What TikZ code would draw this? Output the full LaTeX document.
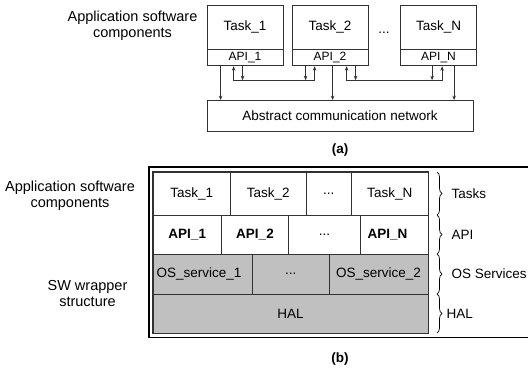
\documentclass[tikz,border=0pt]{standalone}
\usepackage{fontspec}
\setmainfont{Liberation Sans}
\usetikzlibrary{arrows.meta,decorations.pathreplacing}
\definecolor{edge}{RGB}{50,50,50}
\definecolor{layerfill}{RGB}{192,192,192}
\begin{document}
\begin{tikzpicture}[x=1bp,y=-1bp,
  txt/.style={font=\fontsize{13.5bp}{15bp}\selectfont},
  lbl/.style={font=\fontsize{14.5bp}{15.5bp}\selectfont, align=center},
  small/.style={font=\fontsize{12bp}{13bp}\selectfont},
  taskbox/.style={draw=edge, line width=0.8bp, inner sep=0pt, minimum width=76bp, minimum height=44bp, txt},
  apibox/.style={draw=edge, line width=0.8bp, inner sep=0pt, minimum width=76bp, minimum height=16bp, small},
  cell/.style={draw=edge, line width=0.8bp, inner sep=0pt, txt},
  gcell/.style={cell, fill=layerfill},
  wire/.style={draw=edge, line width=0.7bp},
  arr/.style={wire, -{Stealth[length=4.5bp,width=3.5bp]}},
  darr/.style={wire, {Stealth[length=4.5bp,width=3.5bp]}-{Stealth[length=4.5bp,width=3.5bp]}},
  brc/.style={draw=black, line width=0.7bp, decorate, decoration={brace, amplitude=5bp}},
]
\useasboundingbox (0,0) rectangle (528,368);

% ---------- (a) communication view ----------
\node[lbl] (appA) at (132.5,25.5) {Application software\\components};

\node[taskbox] (t1) at (245,27) {Task\_1};
\node[apibox, anchor=north] (a1) at (t1.south) {API\_1};
\node[taskbox] (t2) at (330,27) {Task\_2};
\node[apibox, anchor=north] (a2) at (t2.south) {API\_2};
\node[taskbox] (tn) at (438.5,27) {Task\_N};
\node[apibox, anchor=north] (an) at (tn.south) {API\_N};
\node[txt] (dotsA) at (384,33) {...};

\node[draw=edge, line width=0.8bp, minimum width=266bp, minimum height=31bp, inner sep=0pt, txt]
  (net) at (340,116) {Abstract communication network};

% links down to the network
\draw[arr] ([xshift=14bp]a1.south west) -- ([xshift=14bp]a1.south west |- net.north);
\draw[arr] ([xshift=41bp]a2.south west) -- ([xshift=41bp]a2.south west |- net.north);
\draw[arr] ([xshift=54bp]an.south west) -- ([xshift=54bp]an.south west |- net.north);

% point-to-point channels between neighbouring APIs
\draw[darr] ([xshift=27bp]a1.south west) -- ++(0,14) -| ([xshift=23bp]a2.south west);
\draw[arr] ([xshift=36bp]a1.south west) -- ++(0,14);
\draw[arr] ([xshift=14bp]a2.south west) -- ++(0,14);
\draw[darr] ([xshift=55bp]a2.south west) -- ++(0,14) -| ([xshift=42bp]an.south west);
\draw[arr] ([xshift=64bp]a2.south west) -- ++(0,14);
\draw[arr] ([xshift=32bp]an.south west) -- ++(0,14);

\node[txt, font=\fontsize{13.5bp}{15bp}\bfseries] (capA) at (340,150) {(a)};

% ---------- (b) layered wrapper view ----------
\draw[black, line width=1.2bp] (149,167) rectangle (531,337.6);

% tasks row
\node[cell, minimum width=77.7bp, minimum height=43bp] (bt1) at (191.85,193.5) {Task\_1};
\node[cell, minimum width=75.3bp, minimum height=43bp] (bt2) at (268.35,193.5) {Task\_2};
\node[cell, minimum width=45.5bp, minimum height=43bp] (btd) at (328.75,193.5) {...};
\node[cell, minimum width=76.5bp, minimum height=43bp] (btn) at (389.75,193.5) {Task\_N};
% API row
\node[cell, minimum width=68.5bp, minimum height=39bp, font=\fontsize{13.5bp}{15bp}\bfseries] (ba1) at (187.25,234.5) {API\_1};
\node[cell, minimum width=67bp, minimum height=39bp, font=\fontsize{13.5bp}{15bp}\bfseries] (ba2) at (255,234.5) {API\_2};
\node[cell, minimum width=72bp, minimum height=39bp] (bad) at (324.5,234.5) {...};
\node[cell, minimum width=67.5bp, minimum height=39bp] (ban) at (394.25,234.5) {};
\node[font=\fontsize{13.5bp}{15bp}\bfseries] (banl) at (387.5,234.5) {API\_N};
% OS services row
\node[gcell, minimum width=99.5bp, minimum height=40bp] (bo1) at (202.75,274) {};
\node[txt] (bo1l) at (199,274) {OS\_service\_1};
\node[gcell, minimum width=76.5bp, minimum height=40bp] (bod) at (290.75,274) {...};
\node[gcell, minimum width=99bp, minimum height=40bp] (bo2) at (378.5,274) {OS\_service\_2};
% hardware abstraction layer
\node[gcell, minimum width=275bp, minimum height=39bp] (hal) at (290.5,313.5) {HAL};
% inner outline
\draw[edge, line width=1bp] (bt1.north west) rectangle (hal.south east);

% layer braces
\draw[brc] (437,172) -- (437,215);
\draw[brc] (437,215) -- (437,254);
\draw[brc] (437,254) -- (437,294);
\draw[brc] (437,294) -- (437,333);
\node[txt, anchor=west] (lt) at (448,193.5) {Tasks};
\node[txt, anchor=west] (la) at (448,234.5) {API};
\node[txt, anchor=west] (lo) at (448,274) {OS Services};
\node[txt, anchor=west] (lh) at (443,313.5) {HAL};

\node[lbl] (appB) at (70,195.5) {Application software\\components};
\node[lbl] (sww) at (87.5,293.5) {SW wrapper\\structure};

\node[txt, font=\fontsize{13.5bp}{15bp}\bfseries] (capB) at (340,359) {(b)};
\end{tikzpicture}
\end{document}
